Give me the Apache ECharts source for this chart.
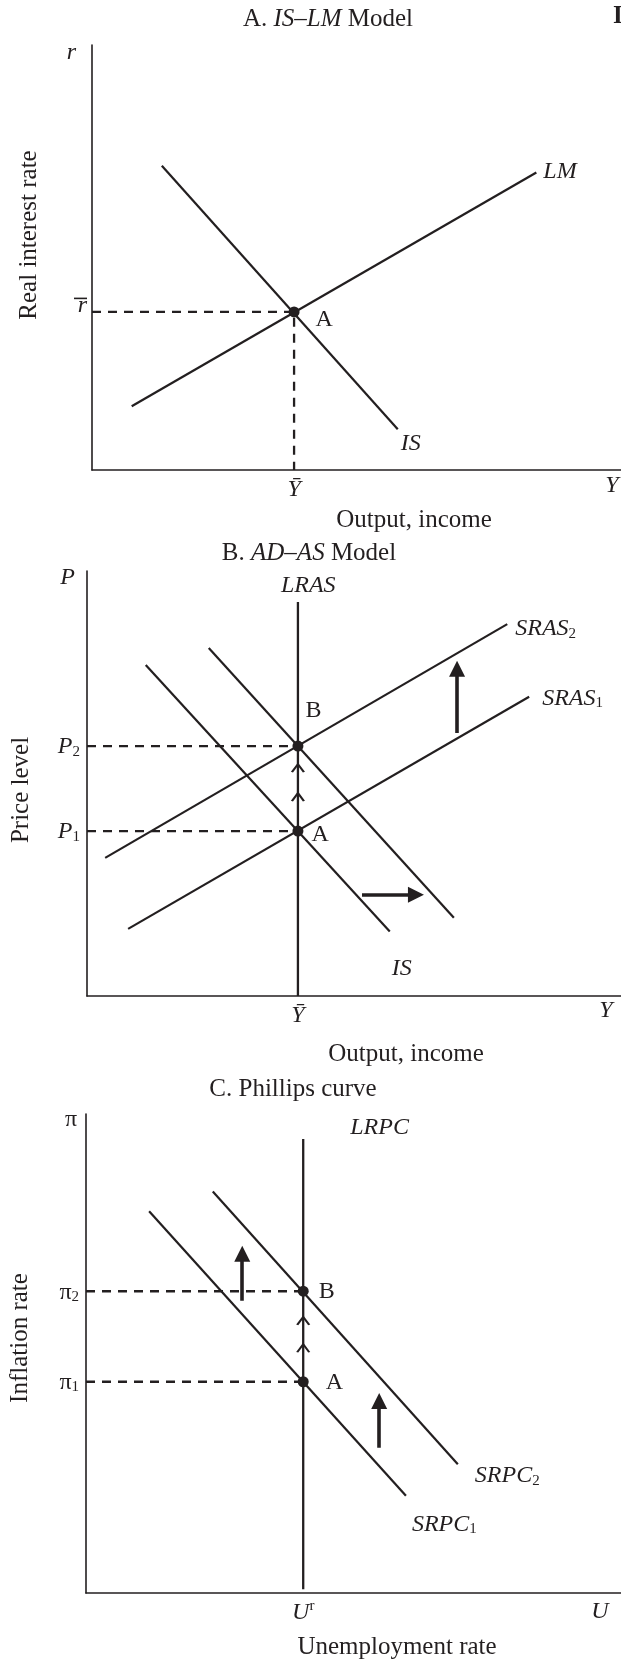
<!DOCTYPE html>
<html>
<head>
<meta charset="utf-8">
<script src="https://cdn.jsdelivr.net/npm/echarts@6/dist/echarts.min.js"></script>
<style>
html,body{margin:0;padding:0;background:#fff;}
#c{width:621px;height:1663px;}
</style>
</head>
<body>
<div id="c"></div>
<script>
// ---------- Panel A: IS–LM model (axis units 0..100) ----------
const isCurveA = [[13.2, 71.6], [57.8, 9.6]];
const lmCurve = [[7.5, 15], [84, 70]];
const rBar = 37.2;
const yBarA = 38.2;

// ---------- Panel B: AD–AS model ----------
const lras = [[39.5, 0], [39.5, 92.7]];
const sras1 = [[7.7, 15.8], [82.8, 70.4]];
const sras2 = [[3.4, 32.5], [78.7, 87.5]];
const ad1 = [[11.0, 77.9], [56.7, 15.2]];
const ad2 = [[22.8, 81.9], [68.7, 18.4]];
const priceP1 = 38.8;
const priceP2 = 58.8;
const yBarB = 39.5;
const adasUpShift = [[69.3, 61.9], [69.3, 77.0]];
const adasRightShift = [[51.5, 23.8], [61.6, 23.8]];
const adasChevrons = [[39.5, 46.8], [39.5, 53.6]];

// ---------- Panel C: Phillips curve ----------
const lrpc = [[40.6, 0.8], [40.6, 94.8]];
const srpc1 = [[11.8, 79.7], [59.8, 20.3]];
const srpc2 = [[23.7, 83.8], [69.5, 26.9]];
const infl1 = 44.1;
const infl2 = 63.0;
const uNat = 40.6;
const pcShiftLeft = [[29.2, 61.0], [29.2, 70.8]];
const pcShiftRight = [[54.8, 30.3], [54.8, 40.1]];
const pcChevrons = [[40.6, 51.1], [40.6, 56.8]];

const AXIS_MIN = 0, AXIS_MAX = 100;

// ---------- styling ----------
const FONT = "'Liberation Serif', 'Times New Roman', serif";
const FT = 25;   // titles, axis titles
const FS = 24;   // labels
const INK = '#231f20';
const RICH = {
  t: {fontFamily: FONT, fontSize: FT, color: INK, verticalAlign: 'bottom', lineHeight: 28},
  ti: {fontFamily: FONT, fontSize: FT, fontStyle: 'italic', color: INK, verticalAlign: 'bottom', lineHeight: 28},
  n: {fontFamily: FONT, fontSize: FS, color: INK, verticalAlign: 'bottom', lineHeight: 26},
  i: {fontFamily: FONT, fontSize: FS, fontStyle: 'italic', color: INK, verticalAlign: 'bottom', lineHeight: 26},
  s: {fontFamily: FONT, fontSize: 15, color: INK, verticalAlign: 'bottom', lineHeight: 14},
  u: {fontFamily: FONT, fontSize: 15, color: INK, verticalAlign: 'top', lineHeight: 14},
  bar: {width: 13, height: 1.6, backgroundColor: INK, lineHeight: 3},
  ir: {fontFamily: FONT, fontSize: FS, fontStyle: 'italic', color: INK, lineHeight: 12}
};

function seg(data, gi, w) {
  return {type: 'line', xAxisIndex: gi, yAxisIndex: gi, data: data, symbol: 'none',
    lineStyle: {color: INK, width: w || 2.2}, silent: true, z: 3};
}
function dash(data, gi) {
  return {type: 'line', xAxisIndex: gi, yAxisIndex: gi, data: data, symbol: 'none',
    lineStyle: {color: INK, width: 2.3, type: [9, 7]}, silent: true, z: 2};
}
function dots(data, labels, gi) {
  return {type: 'scatter', xAxisIndex: gi, yAxisIndex: gi, symbolSize: 11, z: 5, silent: true,
    itemStyle: {color: INK, opacity: 1},
    data: data.map((p, k) => ({value: p, label: {show: true, formatter: labels[k][0], position: 'right',
      distance: 0, offset: labels[k][1], fontFamily: FONT, fontSize: FS, color: INK, opacity: 1}}))};
}
function tags(points, labels, gi) {
  return {type: 'scatter', xAxisIndex: gi, yAxisIndex: gi, symbolSize: 0, z: 6, silent: true,
    itemStyle: {opacity: 1},
    data: points.map((p, k) => ({value: p, label: {show: true, formatter: labels[k][0], position: 'right',
      distance: 0, offset: labels[k][1], rich: RICH, opacity: 1}}))};
}
function chevrons(data, gi) {
  return {type: 'scatter', xAxisIndex: gi, yAxisIndex: gi, z: 4, silent: true,
    symbol: 'path://M0,10 L6,0 L12,10', symbolSize: [12, 8],
    itemStyle: {color: 'rgba(0,0,0,0)', borderColor: INK, borderWidth: 1.9, opacity: 1},
    data: data};
}
function arrows(list, gi) {
  return {type: 'lines', coordinateSystem: 'cartesian2d', xAxisIndex: gi, yAxisIndex: gi, z: 4, silent: true,
    symbol: ['none', 'triangle'], symbolSize: 16,
    lineStyle: {color: INK, width: 3.6, opacity: 1, curveness: 0},
    data: list.map(c => ({coords: c}))};
}
function xAx(gi, val, label, name, nameGap, pad) {
  return {gridIndex: gi, type: 'value', min: AXIS_MIN, max: AXIS_MAX,
    axisLine: {show: true, onZero: false, lineStyle: {color: INK, width: 1.6}},
    axisTick: {show: false}, splitLine: {show: false},
    axisLabel: {customValues: [val], formatter: () => label, rich: RICH, margin: 6},
    name: name, nameLocation: 'end', nameGap: nameGap,
    nameTextStyle: {fontFamily: FONT, fontSize: FS, fontStyle: 'italic', color: INK,
      align: 'center', verticalAlign: 'top', padding: [pad, 0, 0, 0]}};
}
function yAx(gi, vals, labels, name, nameGap, padR, extra) {
  return {gridIndex: gi, type: 'value', min: AXIS_MIN, max: AXIS_MAX,
    axisLine: {show: true, onZero: false, lineStyle: {color: INK, width: 1.6}},
    axisTick: {show: false}, splitLine: {show: false},
    axisLabel: Object.assign({customValues: vals, formatter: v => labels[vals.indexOf(v)], rich: RICH, margin: 7}, extra || {}),
    name: name, nameLocation: 'end', nameGap: nameGap,
    nameTextStyle: {fontFamily: FONT, fontSize: FS, fontStyle: name === 'π' ? 'normal' : 'italic', color: INK,
      align: 'right', verticalAlign: 'middle', padding: [0, padR, 0, 0]}};
}
function txt(x, y, text, rot) {
  return {type: 'text', x: x, y: y, rotation: rot || 0, silent: true,
    style: {text: text, rich: RICH, align: 'center', verticalAlign: 'middle',
      fontFamily: FONT, fontSize: FT, fill: INK}};
}

const option = {
  animation: false,
  backgroundColor: '#fff',
  grid: [
    {left: 92, top: 45, width: 529, height: 425},
    {left: 87, top: 571, width: 534, height: 425},
    {left: 86, top: 1114, width: 535, height: 479}
  ],
  xAxis: [
    xAx(0, yBarA, '{i|Ȳ}', 'Y', -9, 4),
    xAx(1, yBarB, '{i|Ȳ}', 'Y', -15, 3),
    xAx(2, uNat, '{i|U}{u|r}', 'U', -21, 7)
  ],
  yAxis: [
    yAx(0, [rBar], ['{bar| }\n{ir|r}'], 'r', -8, 16, {verticalAlign: 'bottom', margin: 5}),
    yAx(1, [priceP1, priceP2], ['{i|P}{s|1}', '{i|P}{s|2}'], 'P', -7, 12),
    yAx(2, [infl1, infl2], ['{n|π}{s|1}', '{n|π}{s|2}'], 'π', -6, 9)
  ],
  graphic: [
    txt(328, 18, '{t|A. }{ti|IS–LM}{t| Model}'),
    {type: 'text', x: 613, y: 17, silent: true,
      style: {text: 'I', fontFamily: FONT, fontSize: 25, fontWeight: 'bold', fill: INK, verticalAlign: 'middle'}},
    txt(28, 235, '{t|Real interest rate}', Math.PI / 2),
    txt(414, 519, '{t|Output, income}'),
    txt(309, 552, '{t|B. }{ti|AD–AS}{t| Model}'),
    txt(20, 790, '{t|Price level}', Math.PI / 2),
    txt(406, 1053, '{t|Output, income}'),
    txt(293, 1088, '{t|C. Phillips curve}'),
    txt(19, 1338, '{t|Inflation rate}', Math.PI / 2),
    txt(397, 1646, '{t|Unemployment rate}')
  ],
  series: [
    // Panel A
    dash([[AXIS_MIN, rBar], [yBarA, rBar], [yBarA, AXIS_MIN]], 0),
    seg(isCurveA, 0),
    seg(lmCurve, 0),
    dots([[yBarA, rBar]], [['A', [16, 8]]], 0),
    tags([lmCurve[1], isCurveA[1]], [['{i|LM}', [7, -2]], ['{i|IS}', [3, 13]]], 0),
    // Panel B
    dash([[AXIS_MIN, priceP1], [yBarB, priceP1]], 1),
    dash([[AXIS_MIN, priceP2], [yBarB, priceP2]], 1),
    seg(lras, 1, 2.3),
    seg(sras1, 1),
    seg(sras2, 1),
    seg(ad1, 1),
    seg(ad2, 1),
    chevrons(adasChevrons, 1),
    arrows([adasUpShift, adasRightShift], 1),
    dots([[yBarB, priceP1], [yBarB, priceP2]], [['A', [8, 4]], ['B', [2, -35]]], 1),
    tags([lras[1], sras2[1], sras1[1], ad1[1]],
      [['{i|LRAS}', [-17, -17]], ['{i|SRAS}{s|2}', [8, 4]], ['{i|SRAS}{s|1}', [13, 1]], ['{i|IS}', [2, 36]]], 1),
    // Panel C
    dash([[AXIS_MIN, infl1], [uNat, infl1]], 2),
    dash([[AXIS_MIN, infl2], [uNat, infl2]], 2),
    seg(lrpc, 2, 2.3),
    seg(srpc1, 2),
    seg(srpc2, 2),
    chevrons(pcChevrons, 2),
    arrows([pcShiftLeft, pcShiftRight], 2),
    dots([[uNat, infl1], [uNat, infl2]], [['A', [17, 1]], ['B', [10, 0]]], 2),
    tags([lrpc[1], srpc2[1], srpc1[1]],
      [['{i|LRPC}', [47, -12]], ['{i|SRPC}{s|2}', [17, 11]], ['{i|SRPC}{s|1}', [6, 28]]], 2)
  ]
};

const chart = echarts.init(document.getElementById('c'), null, {renderer: 'canvas'});
chart.setOption(option);
</script>
</body>
</html>
